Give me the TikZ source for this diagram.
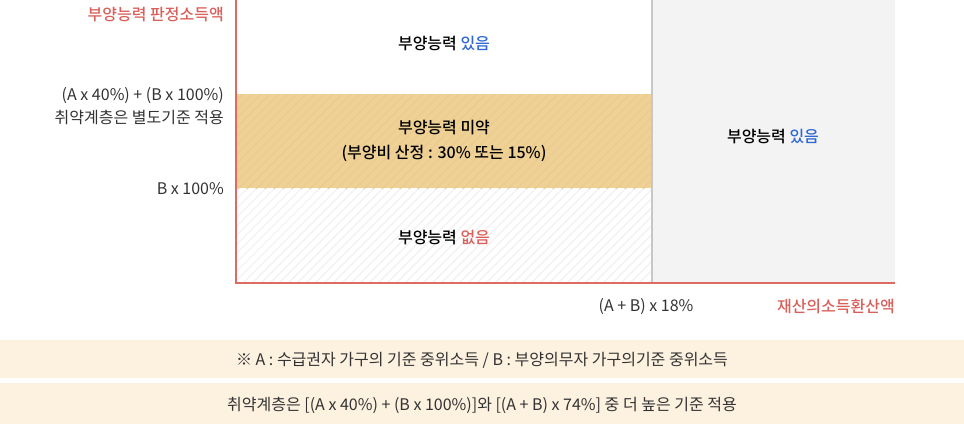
\documentclass[tikz,border=0pt]{standalone}
\usepackage{fontspec}
\setmainfont{Noto Sans CJK KR}
\newfontfamily\krmed{Noto Sans CJK KR Medium}
\usetikzlibrary{positioning,calc}
\definecolor{axisred}{HTML}{DC6B64}
\definecolor{txtred}{HTML}{D9605A}
\definecolor{txtblue}{HTML}{2F68D0}
\definecolor{txtgray}{HTML}{333333}
\definecolor{bandyel}{HTML}{EFD095}
\definecolor{hatchyel}{HTML}{EACC91}
\definecolor{hatchgray}{HTML}{F2F2F2}
\definecolor{bandgray}{HTML}{F3F3F3}
\definecolor{notebg}{HTML}{FDF1E0}

\begin{document}
\begin{tikzpicture}[x=1pt,y=-1pt,
   every node/.style={font=\fontsize{16}{23}\selectfont,text=txtgray,inner sep=0pt},
   zone/.style={font=\fontsize{16}{25}\selectfont\krmed,align=center,text=black},
   axlabel/.style={anchor=east,align=right},
   note/.style={font=\fontsize{16}{20}\selectfont}]
  \useasboundingbox (0,0) rectangle (964,424);
  % bands
  \fill[bandgray] (652,0) rectangle (895,283);
  \fill[bandyel] (236,94) rectangle (652,188);
  \begin{scope}
    \clip (236,94) rectangle (652,188);
    \foreach \i in {-200,-191,...,420}
      \draw[hatchyel,line width=1.2pt] (236+\i,283) -- ++(200,-200);
  \end{scope}
  \begin{scope}
    \clip (236,189) rectangle (652,283);
    \foreach \i in {-200,-191,...,420}
      \draw[hatchgray,line width=1.4pt] (236+\i,283) -- ++(200,-200);
  \end{scope}
  % axes
  \draw[black!22,line width=2pt] (652,0) -- (652,283);
  \draw[axisred,line width=2pt] (236,0) -- (236,283) -- (895,283);
  % zone labels
  \node[zone] (high) at (444,44) {부양능력 \textcolor{txtblue}{있음}};
  \node[zone] (weak) at (444,141) {부양능력 미약\\(부양비 산정 : 30\% 또는 15\%)};
  \node[zone] (none) at (444,238) {부양능력 \textcolor{txtred}{없음}};
  \node[zone] (right) at (773,137) {부양능력 \textcolor{txtblue}{있음}};
  % axis labels
  \node[axlabel,text=txtred,font=\fontsize{16}{23}\selectfont\krmed] (ytitle) at (224,15) {부양능력 판정소득액};
  \node[axlabel] (upper) at (224,106) {(A x 40\%) + (B x 100\%)\\취약계층은 별도기준 적용};
  \node[axlabel] (lower) at (224,189) {B x 100\%};
  \node (split) at (646,307) {(A + B) x 18\%};
  \node[anchor=east,text=txtred,font=\fontsize{16}{23}\selectfont\krmed] (xtitle) at (895,307) {재산의소득환산액};
  % notes
  \fill[notebg] (0,340) rectangle (964,378);
  \fill[notebg] (0,383) rectangle (964,424);
  \node[note] (noteA) at (482,360) {※ A : 수급권자 가구의 기준 중위소득 / B : 부양의무자 가구의기준 중위소득};
  \node[note] (noteB) at (482,405) {취약계층은 [(A x 40\%) + (B x 100\%)]와 [(A + B) x 74\%] 중 더 높은 기준 적용};
\end{tikzpicture}
\end{document}
